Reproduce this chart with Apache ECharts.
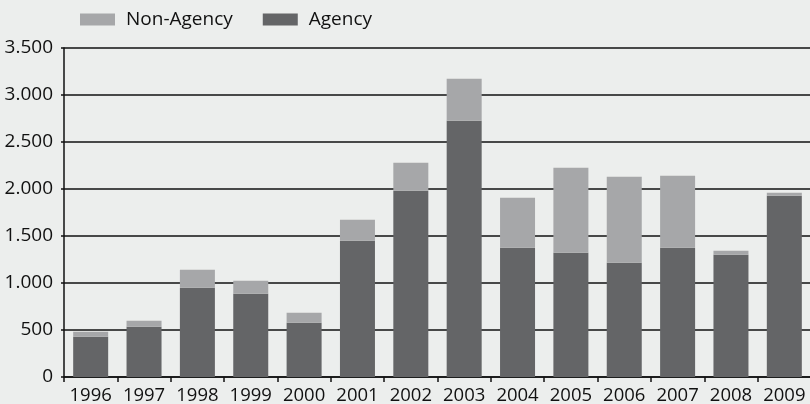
<!DOCTYPE html>
<html>
<head>
<meta charset="utf-8">
<script src="https://cdn.jsdelivr.net/npm/echarts@6/dist/echarts.min.js"></script>
<style>
  html, body { margin: 0; padding: 0; background: #eceeed; }
  #chart { width: 810px; height: 404px; }
</style>
</head>
<body>
<div id="chart"></div>
<script>
const years = ['1996', '1997', '1998', '1999', '2000', '2001', '2002', '2003', '2004', '2005', '2006', '2007', '2008', '2009']
const agency = [429, 535, 950, 886, 578, 1450, 1982, 2727, 1376, 1322, 1216, 1376, 1301, 1929]
const nonAgency = [53, 64, 191, 138, 106, 223, 298, 446, 531, 905, 915, 765, 43, 32]

const font = '"Open Sans", "Noto Sans", sans-serif'

function fmt(v) {
  return String(v).replace(/\B(?=(\d{3})+(?!\d))/g, '.')
}

const chart = echarts.init(document.getElementById('chart'))
chart.setOption({
  animation: false,
  backgroundColor: '#eceeed',
  grid: { left: 64, right: -1, top: 48, bottom: 27, containLabel: false, outerBoundsMode: 'none' },
  legend: {
    left: 75, top: 5,
    itemWidth: 35, itemHeight: 12, itemGap: 30,
    icon: 'rect',
    data: ['Non-Agency', 'Agency'],
    textStyle: { color: '#111', fontSize: 19, fontFamily: font, padding: [0, 0, 0, 6] }
  },
  xAxis: {
    type: 'category', data: years,
    axisLine: { lineStyle: { color: '#111', width: 1.5 } },
    axisTick: { show: true, length: 5, lineStyle: { color: '#111', width: 1.5 } },
    axisLabel: { color: '#111', fontSize: 18.5, fontFamily: font, margin: 9, interval: 0, hideOverlap: false },
    splitLine: { show: false }
  },
  yAxis: {
    type: 'value', min: 0, max: 3500, interval: 500,
    axisLine: { show: true, lineStyle: { color: '#111', width: 1.5 } },
    axisTick: { show: true, length: 3, lineStyle: { color: '#111', width: 1.5 } },
    axisLabel: { color: '#111', fontSize: 19, fontFamily: font, margin: 11, formatter: fmt },
    splitLine: { lineStyle: { color: '#111', width: 1.5 } }
  },
  series: [
    {
      name: 'Agency', type: 'bar', stack: 'total', data: agency,
      barWidth: 35,
      itemStyle: { color: '#646567' }
    },
    {
      name: 'Non-Agency', type: 'bar', stack: 'total', data: nonAgency,
      barWidth: 35,
      itemStyle: { color: '#a6a7a9' }
    }
  ]
})
</script>
</body>
</html>
